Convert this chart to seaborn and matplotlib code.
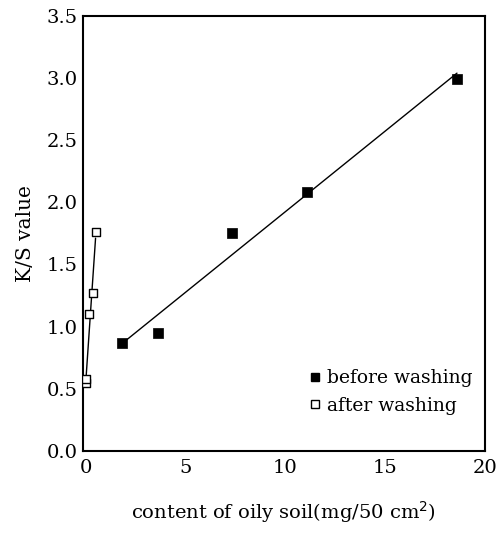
import matplotlib
matplotlib.use("Agg")
import matplotlib.pyplot as plt
import seaborn as sns
import pandas as pd
from matplotlib.lines import Line2D

# Data
before_x = [1.8, 3.6, 7.3, 11.1, 18.6]
before_y = [0.87, 0.95, 1.75, 2.08, 2.99]
after_x = [0.0, 0.02, 0.15, 0.35, 0.48]
after_y = [0.55, 0.58, 1.10, 1.27, 1.76]
x_ticks = [0, 5, 10, 15, 20]
y_ticks = [0.0, 0.5, 1.0, 1.5, 2.0, 2.5, 3.0, 3.5]

sns.set_theme(style="white")
plt.rcParams['font.family'] = ['DejaVu Serif']
plt.rcParams['text.color'] = 'black'
plt.rcParams['axes.labelcolor'] = 'black'

fig = plt.figure(figsize=(5.03, 5.44), dpi=100)
ax = fig.add_axes([0.165, 0.171, 0.799, 0.80])

df_b = pd.DataFrame({"x": before_x, "y": before_y})
df_a = pd.DataFrame({"x": after_x, "y": after_y})

sns.regplot(data=df_b, x="x", y="y", ax=ax, ci=None, truncate=True,
            marker="s", scatter_kws=dict(s=55, color="black", edgecolors="black", linewidths=0.5, alpha=1, zorder=3),
            line_kws=dict(color="black", lw=1.0))
sns.regplot(data=df_a, x="x", y="y", ax=ax, ci=None, truncate=True,
            marker="s", scatter_kws=dict(s=40, facecolors="white", edgecolors="black", linewidths=1.0, alpha=1, zorder=3),
            line_kws=dict(color="black", lw=1.0))

ax.set_xlim(-0.15, 20)
ax.set_ylim(0, 3.5)
ax.set_xticks(x_ticks)
ax.set_yticks(y_ticks)
ax.set_xticklabels([str(t) for t in x_ticks])
ax.set_yticklabels([f"{t:.1f}" for t in y_ticks])
ax.tick_params(direction="in", length=5, width=1.0, labelsize=14, colors="black", pad=4)
ax.tick_params(axis="x", pad=6)
for s in ax.spines.values():
    s.set_color("black")
    s.set_linewidth(1.5)

ax.set_xlabel("content of oily soil(mg/50 cm$^2$)", fontsize=14, labelpad=16, color="black")
ax.set_ylabel("K/S value", fontsize=14.5, labelpad=8, color="black")

handles = [
    Line2D([], [], marker="s", linestyle="none", markersize=6, markerfacecolor="black", markeredgecolor="black"),
    Line2D([], [], marker="s", linestyle="none", markersize=6, markerfacecolor="white", markeredgecolor="black"),
]
leg = ax.legend(handles, ["before washing", "after washing"], loc="lower right",
                bbox_to_anchor=(1.01, 0.045), frameon=False, fontsize=13.5,
                handletextpad=0.1, handlelength=1.0, labelspacing=0.5)
for t in leg.get_texts():
    t.set_color("black")

fig.savefig("out.png", dpi=100)
